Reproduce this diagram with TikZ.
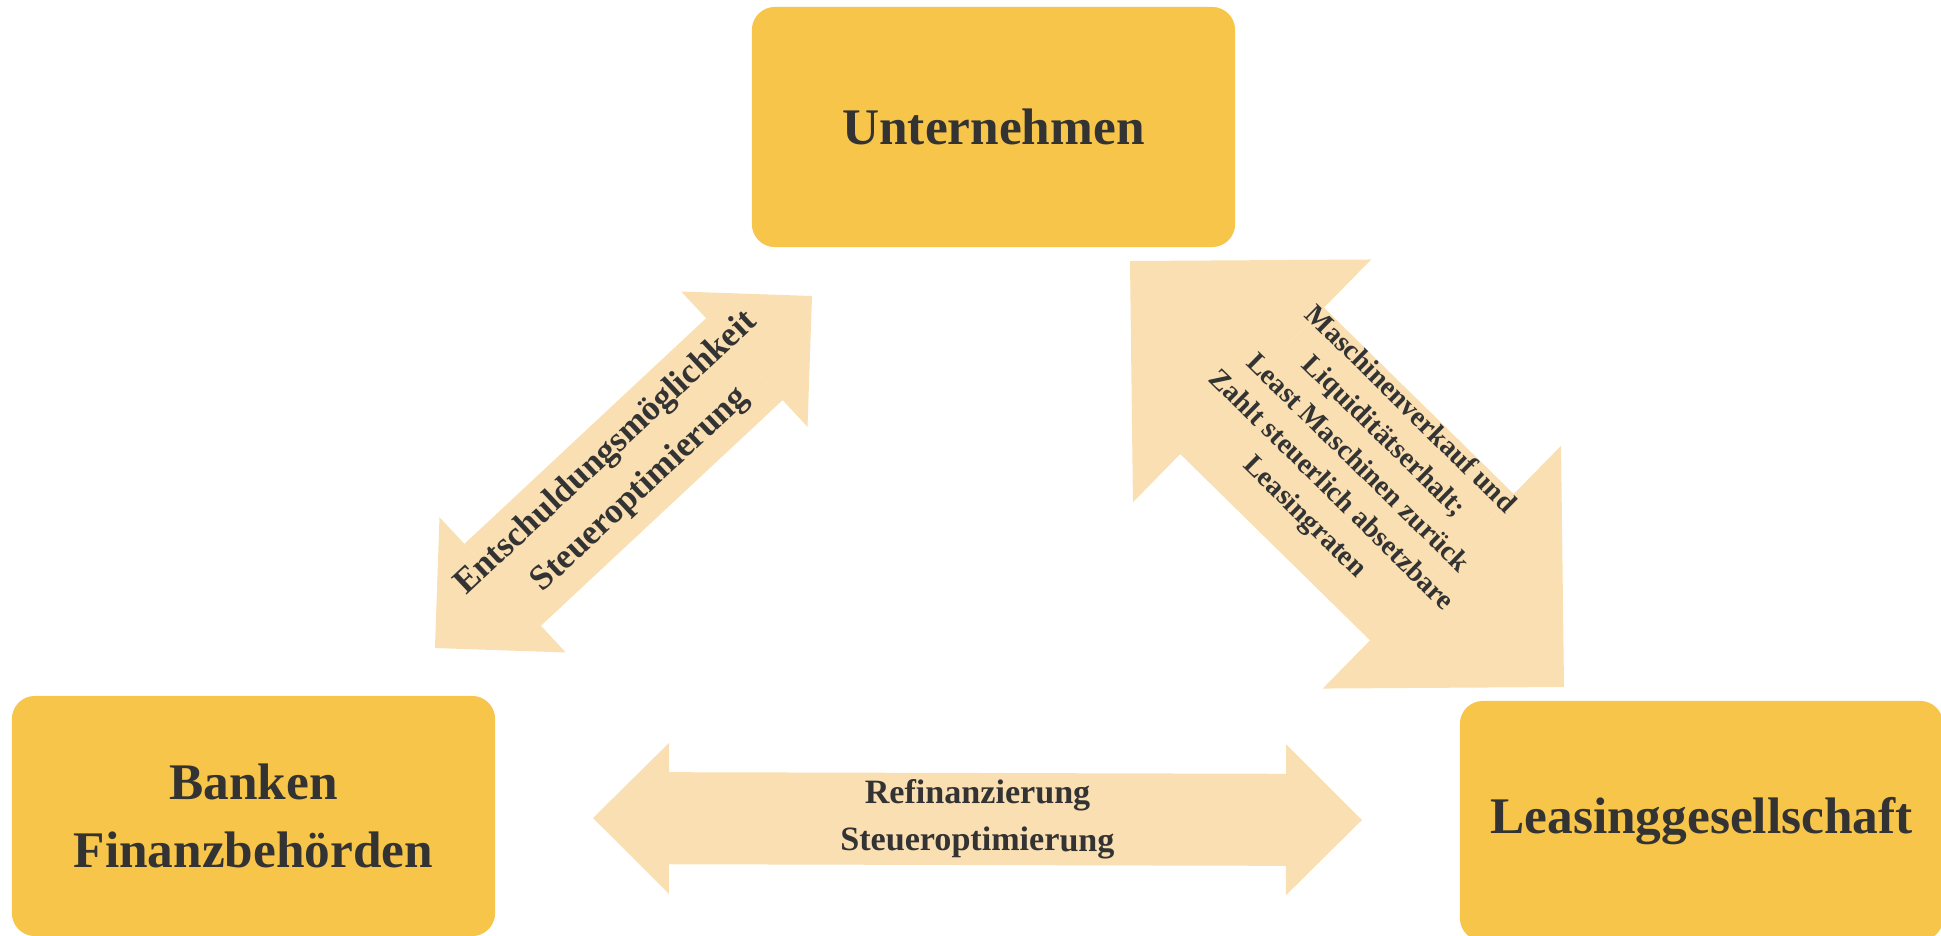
\documentclass[tikz,border=0pt]{standalone}
\usepackage{fontspec}
\setmainfont{Liberation Serif}
\usetikzlibrary{arrows.meta}

\definecolor{boxyellow}{HTML}{F6C54A}
\definecolor{arrowsand}{HTML}{F9DFB1}
\definecolor{labelgray}{HTML}{333333}

\tikzset{
  party/.style={rectangle, rounded corners=0.23cm, fill=boxyellow,
    minimum width=4.83cm, minimum height=2.4cm, inner sep=0pt,
    text=labelgray, align=center,
    font=\fontsize{14.6}{19.4}\selectfont\bfseries},
  flow/.style={draw=arrowsand, line cap=butt},
  flowlabel/.style={midway, sloped, inner sep=0pt, text=labelgray, align=center}
}

\begin{document}
\begin{tikzpicture}[x=0.01cm, y=-0.01cm]
  \useasboundingbox (0,0) rectangle (1941,935);

  % The three parties
  \node[party] (firm)  at (993.5,127) {Unternehmen};
  \node[party] (bank)  at (253.5,816) {Banken\\Finanzbehörden};
  \node[party] (lease) at (1701.5,821) {Leasinggesellschaft};

  % Ends of the flows
  \coordinate (fb-1) at (435,648);
  \coordinate (fb-2) at (812,296);
  \coordinate (fl-1) at (1130,261);
  \coordinate (fl-2) at (1564,687);
  \coordinate (bl-1) at (593,818);
  \coordinate (bl-2) at (1362,820);

  % Flows
  \draw[flow, line width=1.12cm,
    {Triangle[length=0.925cm, width=1.85cm, line width=0pt]}-{Triangle[length=0.925cm, width=1.85cm, line width=0pt]}]
    (fb-1) -- (fb-2)
    node[flowlabel, font=\fontsize{10}{14.2}\selectfont\bfseries]
    {Entschuldungsmöglichkeit\\Steueroptimierung};

  \draw[flow, line width=2.05cm,
    {Triangle[length=1.71cm, width=3.4cm, line width=0pt]}-{Triangle[length=1.71cm, width=3.4cm, line width=0pt]}]
    (fl-1) -- (fl-2)
    node[flowlabel, yshift=0.14cm, font=\fontsize{8.1}{10.7}\selectfont\bfseries]
    {Maschinenverkauf und\\Liquiditätserhalt;\\Least Maschinen zurück\\Zahlt steuerlich absetzbare\\Leasingraten};

  \draw[flow, line width=0.92cm,
    {Triangle[length=0.76cm, width=1.51cm, line width=0pt]}-{Triangle[length=0.76cm, width=1.51cm, line width=0pt]}]
    (bl-1) -- (bl-2)
    node[flowlabel, font=\fontsize{9.7}{13.4}\selectfont\bfseries]
    {Refinanzierung\\Steueroptimierung};

\end{tikzpicture}
\end{document}
